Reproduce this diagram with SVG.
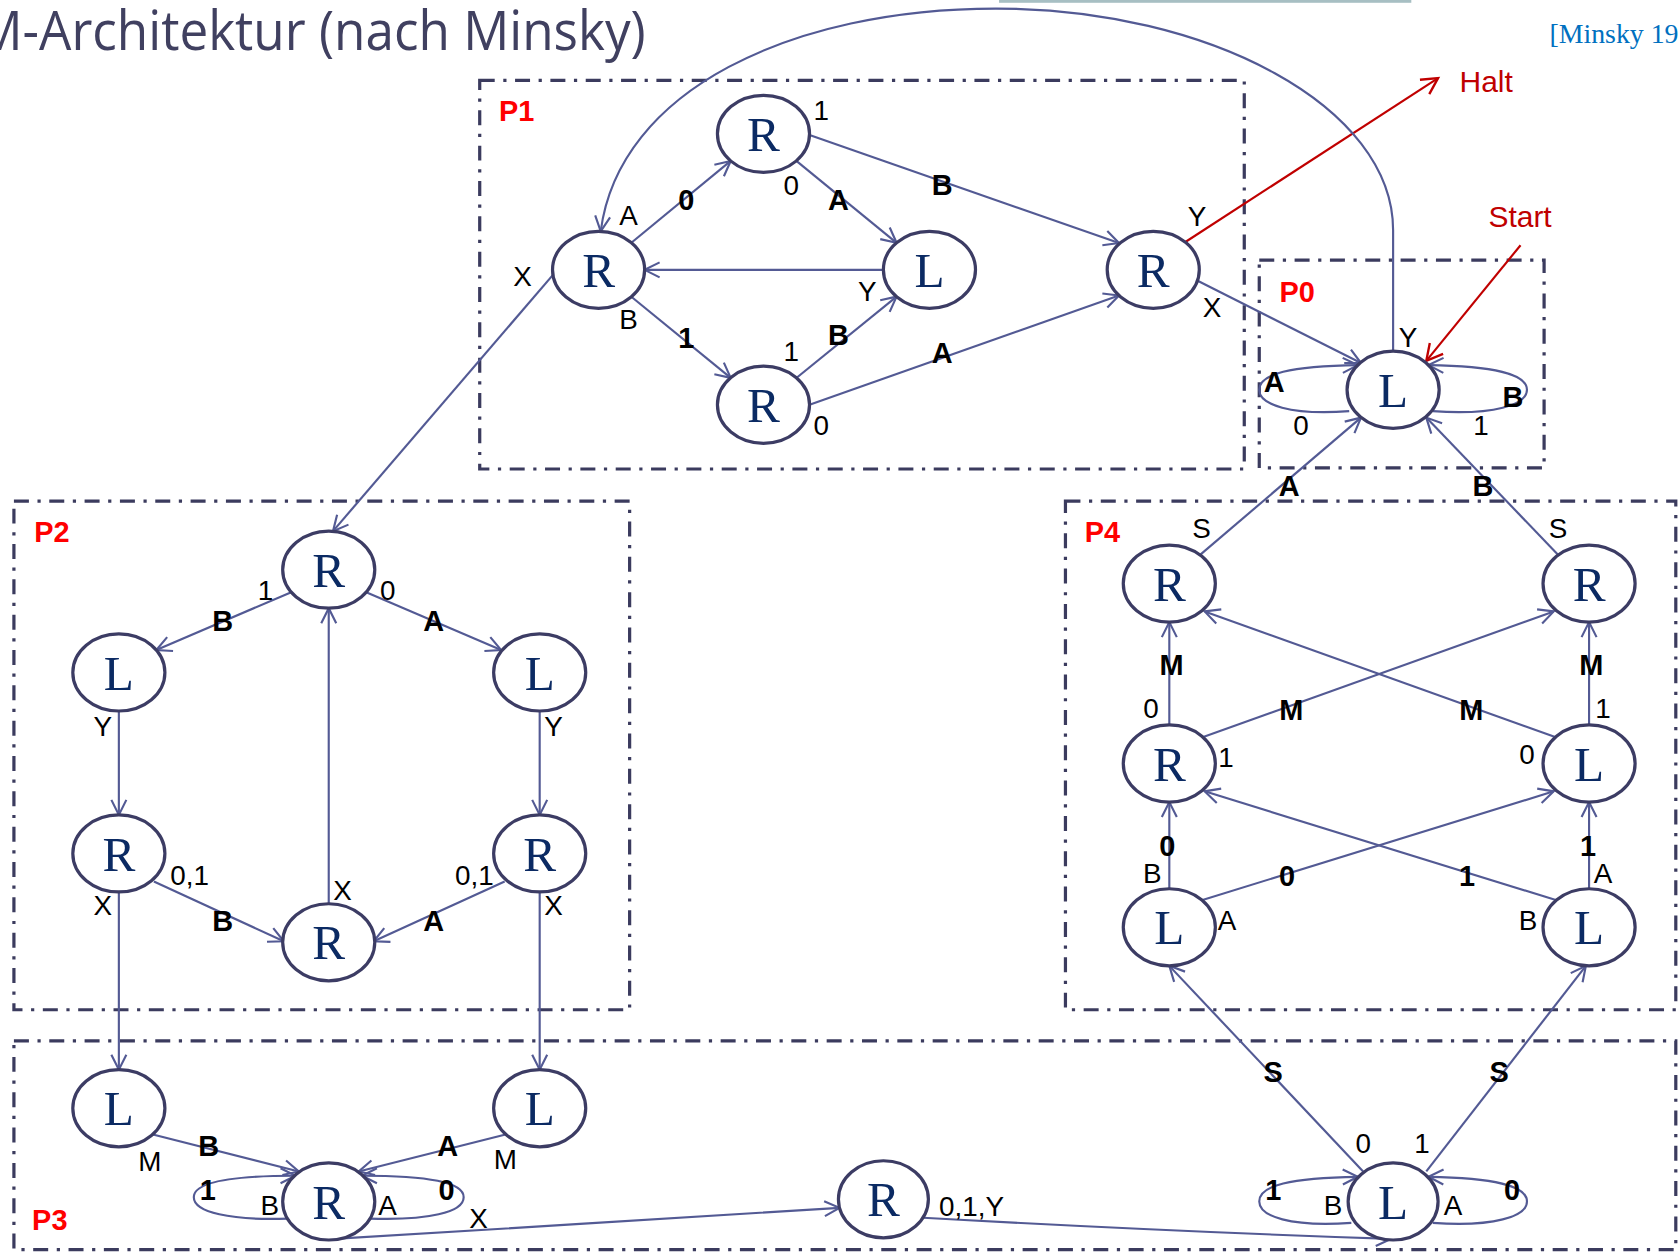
<svg xmlns="http://www.w3.org/2000/svg" width="1679" height="1252" viewBox="0 0 1679 1252">
  <defs>
    <style>
      .box { fill: none; stroke: #3b3b5e; stroke-width: 3; stroke-dasharray: 14 8 3 8; }
      .node ellipse { fill: #ffffff; stroke: #3c3c64; stroke-width: 3; }
      .node text { font-family: "Liberation Serif", "Times New Roman", serif; font-size: 46px; fill: #0b2a63; text-anchor: middle; }
      .edge { fill: none; stroke: #535a94; stroke-width: 2; marker-end: url(#arr); }
      .red { fill: none; stroke: #c00000; stroke-width: 2; marker-end: url(#arrRed); }
      .port { font-family: "Liberation Sans", Arial, sans-serif; font-size: 26px; fill: #000000; text-anchor: middle; dominant-baseline: central; }
      .sym { font-family: "Liberation Sans", Arial, sans-serif; font-size: 27px; font-weight: bold; fill: #000000; text-anchor: middle; dominant-baseline: central; }
      .part { font-family: "Liberation Sans", Arial, sans-serif; font-size: 27px; font-weight: bold; fill: #ff0000; }
      .note { font-family: "Liberation Sans", Arial, sans-serif; font-size: 28px; fill: #c00000; }
    </style>
    <marker id="arr" markerUnits="userSpaceOnUse" orient="auto" refX="0" refY="0" markerWidth="20" markerHeight="20" overflow="visible">
      <path d="M-14,-7 L0,0 L-14,7" fill="none" stroke="#535a94" stroke-width="2"/>
    </marker>
    <marker id="arrRed" markerUnits="userSpaceOnUse" orient="auto" refX="0" refY="0" markerWidth="20" markerHeight="20" overflow="visible">
      <path d="M-15,-8 L0,0 L-15,8" fill="none" stroke="#c00000" stroke-width="2.2"/>
    </marker>
  </defs>

  <rect width="1679" height="1252" fill="#ffffff"/>

  <g transform="scale(1.0708)">
    <!-- header -->
    <g id="header">
      <rect x="933" y="0" width="385" height="2.6" fill="#a7bfc3"/>
      <text x="-22" y="47" font-family="Open Sans, DejaVu Sans, sans-serif" font-size="52" fill="#404060" textLength="625" lengthAdjust="spacingAndGlyphs">M-Architektur (nach Minsky)</text>
      <text x="1447" y="40" font-family="Liberation Serif, Times New Roman, serif" font-size="26" fill="#0070c0">[Minsky 19</text>
    </g>

    <!-- partition frames -->
    <g id="partitions">
      <rect class="box" x="448" y="75" width="714" height="363"/>
      <rect class="box" x="1176" y="243" width="266" height="194"/>
      <rect class="box" x="13" y="468" width="575" height="475"/>
      <rect class="box" x="995" y="468" width="570" height="475"/>
      <rect class="box" x="13" y="972" width="1552" height="195"/>
      <text class="part" x="466" y="113">P1</text>
      <text class="part" x="1195" y="282">P0</text>
      <text class="part" x="32" y="506">P2</text>
      <text class="part" x="1013" y="506">P4</text>
      <text class="part" x="30" y="1149">P3</text>
    </g>

    <!-- transitions -->
    <g id="connectors">
      <!-- P1 -->
      <line class="edge" x1="589.6" y1="226.7" x2="682.4" y2="150.3"/>
      <line class="edge" x1="743.7" y1="150.2" x2="837.3" y2="226.8"/>
      <line class="edge" x1="756" y1="126" x2="1045" y2="227"/>
      <line class="edge" x1="825" y1="252" x2="602" y2="252"/>
      <line class="edge" x1="589.6" y1="277.1" x2="682.4" y2="352.9"/>
      <line class="edge" x1="743.7" y1="353" x2="837.3" y2="277"/>
      <line class="edge" x1="756" y1="378" x2="1045" y2="276"/>
      <line class="edge" x1="1118" y1="262" x2="1271" y2="339"/>
      <line class="red" x1="1107" y1="226" x2="1343" y2="73"/>
      <path class="edge" d="M1301,328 V215 C1301,100 1130,8 930,8 C740,8 578,84 561,216"/>
      <line class="edge" x1="517" y1="256" x2="311" y2="496"/>
      <!-- P0 -->
      <path class="edge" d="M1260,384 C1205,388 1176,378 1176,364 C1176,349 1205,342 1268,341"/>
      <path class="edge" d="M1338,384 C1395,388 1426,378 1426,364 C1426,349 1395,342 1334,341"/>
      <line class="red" x1="1420" y1="229" x2="1332" y2="337"/>
      <line class="edge" x1="1121" y1="518" x2="1271" y2="390"/>
      <line class="edge" x1="1455" y1="518" x2="1332" y2="390"/>
      <!-- P2 -->
      <line class="edge" x1="272" y1="553" x2="146" y2="607"/>
      <line class="edge" x1="342" y1="553" x2="468" y2="607"/>
      <line class="edge" x1="111" y1="664" x2="111" y2="761"/>
      <line class="edge" x1="504" y1="664" x2="504" y2="761"/>
      <line class="edge" x1="143.7" y1="823.3" x2="265" y2="879"/>
      <line class="edge" x1="471.3" y1="823.3" x2="349" y2="879"/>
      <line class="edge" x1="307" y1="844" x2="307" y2="568"/>
      <line class="edge" x1="111" y1="833" x2="111" y2="999"/>
      <line class="edge" x1="504" y1="833" x2="504" y2="999"/>
      <!-- P3 -->
      <line class="edge" x1="141" y1="1059" x2="279" y2="1094"/>
      <line class="edge" x1="474" y1="1059" x2="335" y2="1094"/>
      <path class="edge" d="M269,1138 C215,1140 181,1132 181,1118 C181,1104 215,1098 276,1098"/>
      <path class="edge" d="M345,1138 C400,1140 433,1132 433,1118 C433,1104 400,1098 338,1098"/>
      <path class="edge" d="M312,1157 C450,1150 650,1135 784,1128"/>
      <path class="edge" d="M858,1137 C1000,1145 1150,1152 1299,1157"/>
      <path class="edge" d="M1262,1142 C1205,1146 1176,1136 1176,1122 C1176,1107 1205,1100 1268,1099"/>
      <path class="edge" d="M1338,1142 C1395,1146 1426,1136 1426,1122 C1426,1107 1395,1100 1334,1099"/>
      <line class="edge" x1="1273" y1="1094" x2="1092" y2="902"/>
      <line class="edge" x1="1332" y1="1094" x2="1481" y2="902"/>
      <!-- P4 -->
      <line class="edge" x1="1092" y1="677" x2="1092" y2="581"/>
      <line class="edge" x1="1484" y1="677" x2="1484" y2="581"/>
      <line class="edge" x1="1123" y1="688.5" x2="1451" y2="571"/>
      <line class="edge" x1="1453" y1="688.5" x2="1125" y2="571"/>
      <line class="edge" x1="1092" y1="830" x2="1092" y2="749"/>
      <line class="edge" x1="1484" y1="830" x2="1484" y2="749"/>
      <line class="edge" x1="1123" y1="840.5" x2="1451" y2="739"/>
      <line class="edge" x1="1453" y1="840.5" x2="1125" y2="739"/>
    </g>

    <!-- states -->
    <g id="p1-r-left" class="node"><ellipse cx="559" cy="252" rx="43" ry="36"/><text x="559" y="268">R</text></g>
    <g id="p1-r-top" class="node"><ellipse cx="713" cy="125" rx="43" ry="36"/><text x="713" y="141">R</text></g>
    <g id="p1-l" class="node"><ellipse cx="868" cy="252" rx="43" ry="36"/><text x="868" y="268">L</text></g>
    <g id="p1-r-bottom" class="node"><ellipse cx="713" cy="378" rx="43" ry="36"/><text x="713" y="394">R</text></g>
    <g id="p1-r-right" class="node"><ellipse cx="1077" cy="252" rx="43" ry="36"/><text x="1077" y="268">R</text></g>

    <g id="p0-l" class="node"><ellipse cx="1301" cy="364" rx="43" ry="36"/><text x="1301" y="380">L</text></g>

    <g id="p2-r-top" class="node"><ellipse cx="307" cy="532" rx="43" ry="36"/><text x="307" y="548">R</text></g>
    <g id="p2-l-left" class="node"><ellipse cx="111" cy="628" rx="43" ry="36"/><text x="111" y="644">L</text></g>
    <g id="p2-l-right" class="node"><ellipse cx="504" cy="628" rx="43" ry="36"/><text x="504" y="644">L</text></g>
    <g id="p2-r-left" class="node"><ellipse cx="111" cy="797" rx="43" ry="36"/><text x="111" y="813">R</text></g>
    <g id="p2-r-right" class="node"><ellipse cx="504" cy="797" rx="43" ry="36"/><text x="504" y="813">R</text></g>
    <g id="p2-r-bottom" class="node"><ellipse cx="307" cy="880" rx="43" ry="36"/><text x="307" y="896">R</text></g>

    <g id="p4-r-top-left" class="node"><ellipse cx="1092" cy="545" rx="43" ry="36"/><text x="1092" y="561">R</text></g>
    <g id="p4-r-top-right" class="node"><ellipse cx="1484" cy="545" rx="43" ry="36"/><text x="1484" y="561">R</text></g>
    <g id="p4-r-mid" class="node"><ellipse cx="1092" cy="713" rx="43" ry="36"/><text x="1092" y="729">R</text></g>
    <g id="p4-l-mid" class="node"><ellipse cx="1484" cy="713" rx="43" ry="36"/><text x="1484" y="729">L</text></g>
    <g id="p4-l-bottom-left" class="node"><ellipse cx="1092" cy="866" rx="43" ry="36"/><text x="1092" y="882">L</text></g>
    <g id="p4-l-bottom-right" class="node"><ellipse cx="1484" cy="866" rx="43" ry="36"/><text x="1484" y="882">L</text></g>

    <g id="p3-l-left" class="node"><ellipse cx="111" cy="1035" rx="43" ry="36"/><text x="111" y="1051">L</text></g>
    <g id="p3-l-right" class="node"><ellipse cx="504" cy="1035" rx="43" ry="36"/><text x="504" y="1051">L</text></g>
    <g id="p3-r-loop" class="node"><ellipse cx="307" cy="1122" rx="43" ry="36"/><text x="307" y="1138">R</text></g>
    <g id="p3-r-mid" class="node"><ellipse cx="825" cy="1120" rx="42" ry="36"/><text x="825" y="1136">R</text></g>
    <g id="p3-l-loop" class="node"><ellipse cx="1301" cy="1122" rx="42" ry="36"/><text x="1301" y="1138">L</text></g>

    <!-- transition symbols and port names -->
    <g id="labels">
      <!-- P1 -->
      <text class="sym" x="641" y="187">0</text>
      <text class="port" x="587" y="201">A</text>
      <text class="sym" x="783" y="187">A</text>
      <text class="port" x="739" y="173">0</text>
      <text class="sym" x="880" y="173">B</text>
      <text class="port" x="767" y="103">1</text>
      <text class="port" x="488" y="258">X</text>
      <text class="port" x="587" y="298">B</text>
      <text class="sym" x="641" y="316">1</text>
      <text class="port" x="739" y="328">1</text>
      <text class="sym" x="783" y="313">B</text>
      <text class="port" x="810" y="272">Y</text>
      <text class="sym" x="880" y="330">A</text>
      <text class="port" x="767" y="397">0</text>
      <text class="port" x="1118" y="202">Y</text>
      <text class="port" x="1132" y="287">X</text>
      <text class="note" x="1363" y="86">Halt</text>
      <!-- P0 -->
      <text class="sym" x="1190" y="357">A</text>
      <text class="port" x="1215" y="397">0</text>
      <text class="sym" x="1413" y="371">B</text>
      <text class="port" x="1383" y="397">1</text>
      <text class="port" x="1315" y="315">Y</text>
      <text class="sym" x="1204" y="454">A</text>
      <text class="sym" x="1385" y="454">B</text>
      <text class="note" x="1390" y="212">Start</text>
      <!-- P4 -->
      <text class="port" x="1122" y="494">S</text>
      <text class="port" x="1455" y="494">S</text>
      <text class="sym" x="1094" y="621">M</text>
      <text class="sym" x="1486" y="621">M</text>
      <text class="port" x="1075" y="662">0</text>
      <text class="port" x="1497" y="662">1</text>
      <text class="sym" x="1206" y="663">M</text>
      <text class="sym" x="1374" y="663">M</text>
      <text class="port" x="1145" y="707">1</text>
      <text class="port" x="1426" y="705">0</text>
      <text class="sym" x="1090" y="790">0</text>
      <text class="sym" x="1483" y="790">1</text>
      <text class="port" x="1076" y="816">B</text>
      <text class="port" x="1497" y="816">A</text>
      <text class="sym" x="1202" y="818">0</text>
      <text class="sym" x="1370" y="818">1</text>
      <text class="port" x="1146" y="860">A</text>
      <text class="port" x="1427" y="860">B</text>
      <!-- P2 -->
      <text class="port" x="248" y="551">1</text>
      <text class="port" x="362" y="551">0</text>
      <text class="sym" x="208" y="580">B</text>
      <text class="sym" x="405" y="580">A</text>
      <text class="port" x="96" y="678">Y</text>
      <text class="port" x="517" y="678">Y</text>
      <text class="port" x="177" y="818">0,1</text>
      <text class="port" x="443" y="818">0,1</text>
      <text class="port" x="96" y="846">X</text>
      <text class="port" x="517" y="846">X</text>
      <text class="port" x="320" y="832">X</text>
      <text class="sym" x="208" y="860">B</text>
      <text class="sym" x="405" y="860">A</text>
      <!-- P3 -->
      <text class="sym" x="195" y="1070">B</text>
      <text class="sym" x="418" y="1070">A</text>
      <text class="port" x="140" y="1085">M</text>
      <text class="port" x="472" y="1083">M</text>
      <text class="sym" x="194" y="1111">1</text>
      <text class="sym" x="417" y="1111">0</text>
      <text class="port" x="252" y="1126">B</text>
      <text class="port" x="362" y="1126">A</text>
      <text class="port" x="447" y="1138">X</text>
      <text class="port" x="877" y="1127" style="text-anchor:start">0,1,Y</text>
      <text class="sym" x="1189" y="1001">S</text>
      <text class="sym" x="1400" y="1001">S</text>
      <text class="port" x="1273" y="1068">0</text>
      <text class="port" x="1328" y="1068">1</text>
      <text class="sym" x="1189" y="1111">1</text>
      <text class="sym" x="1412" y="1111">0</text>
      <text class="port" x="1245" y="1126">B</text>
      <text class="port" x="1357" y="1126">A</text>
    </g>
  </g>
</svg>
